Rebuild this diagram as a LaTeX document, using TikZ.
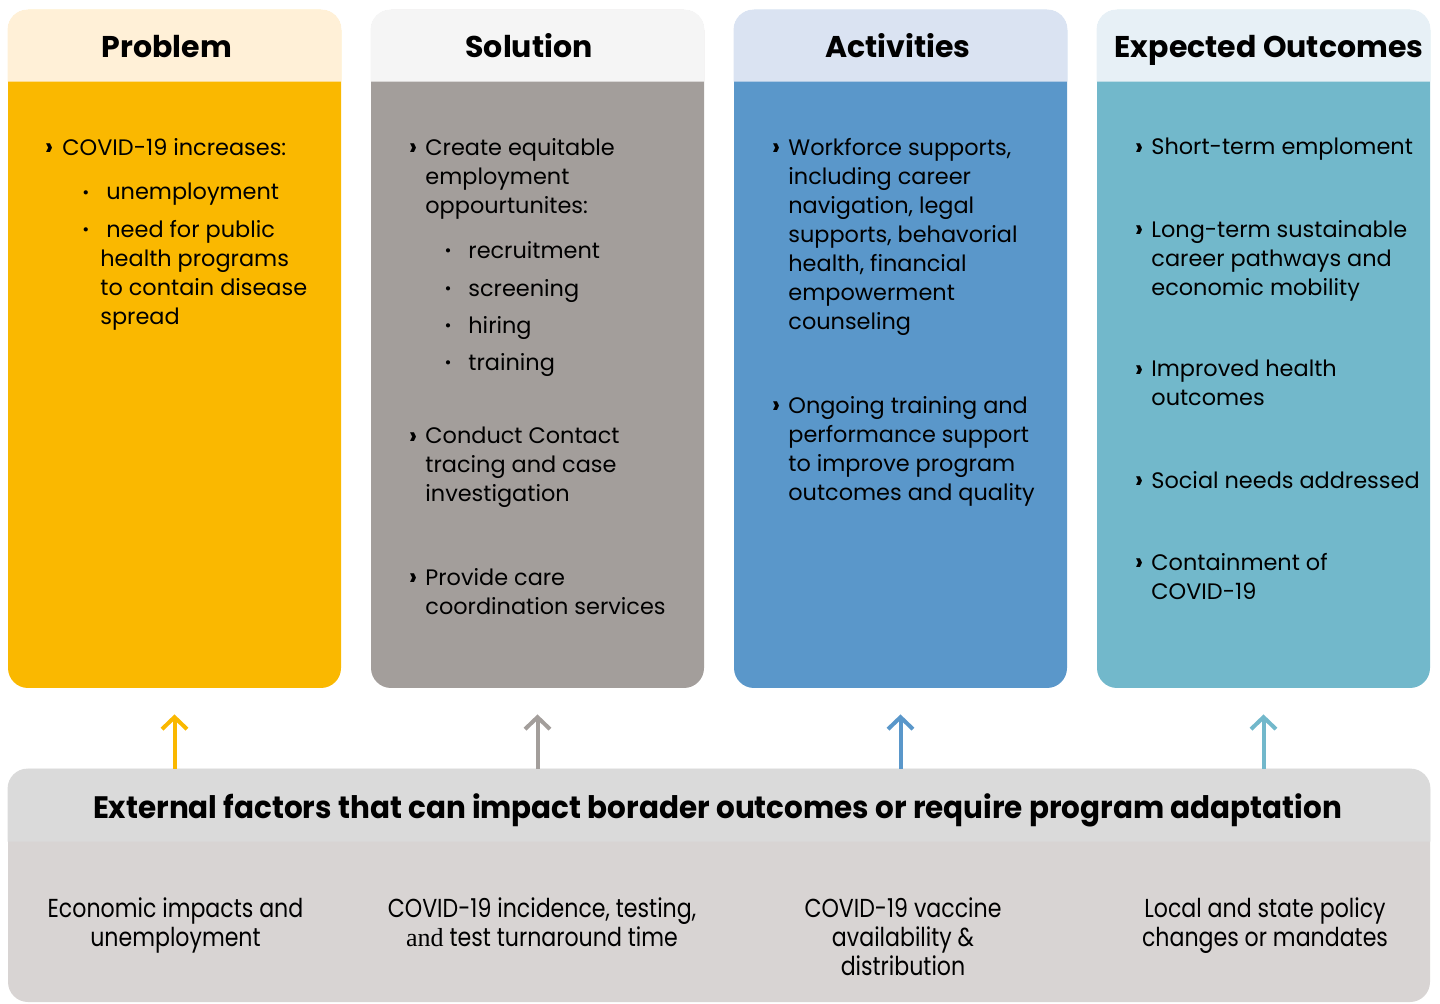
\documentclass[tikz,border=0pt]{standalone}
\usepackage{fontspec}
\setmainfont{Poppins}
\newfontfamily\narrowfont[FakeStretch=0.85]{Poppins}
\newfontfamily\titlefont[FakeStretch=0.95]{Poppins}
\newfontfamily\oddserif{Liberation Serif}
\usetikzlibrary{positioning, arrows.meta}

\definecolor{probhead}{HTML}{FFF0D7}
\definecolor{probbody}{HTML}{FAB800}
\definecolor{solhead}{HTML}{F5F5F5}
\definecolor{solbody}{HTML}{A39E9B}
\definecolor{acthead}{HTML}{DAE3F2}
\definecolor{actbody}{HTML}{5A97CA}
\definecolor{outhead}{HTML}{E7F0F6}
\definecolor{outbody}{HTML}{72B8CB}
\definecolor{exthead}{HTML}{DADADA}
\definecolor{extbody}{HTML}{D8D4D3}

\tikzset{
  colbox/.style={rounded corners=10pt, minimum width=166.5pt, minimum height=339pt, inner sep=0pt},
  headtext/.style={anchor=base, inner sep=0pt, font=\fontsize{15}{17}\selectfont\bfseries},
  item/.style={anchor=north west, inner sep=0pt, align=left, font=\fontsize{11.2}{14.5}\selectfont},
  chev/.style={anchor=base, inner sep=0pt, font=\fontsize{12.5}{14.5}\selectfont\bfseries},
  dotbul/.style={anchor=base, inner sep=0pt, font=\fontsize{8.5}{9}\selectfont},
  extnote/.style={anchor=north, inner sep=0pt, align=center, font=\narrowfont\fontsize{13}{14.5}\selectfont},
  uparr/.style={line width=2pt, -{Straight Barb[length=6pt, width=12.5pt]}}
}

\begin{document}
\begin{tikzpicture}[x=0.5pt, y=-0.5pt]
   \useasboundingbox (0,0) rectangle (1440,1004);

   % The four columns
   \node[colbox, fill=probbody] (prob) at (174.5,349) {};
   \node[colbox, fill=solbody] (sol) at (537.5,349) {};
   \node[colbox, fill=actbody] (act) at (900.5,349) {};
   \node[colbox, fill=outbody] (out) at (1263.5,349) {};

   % Header bands
   \fill[probhead] ([yshift=-36pt]prob.north west) [rounded corners=10pt] -- (prob.north west) -- (prob.north east) [sharp corners] -- ([yshift=-36pt]prob.north east) -- cycle;
   \fill[solhead] ([yshift=-36pt]sol.north west) [rounded corners=10pt] -- (sol.north west) -- (sol.north east) [sharp corners] -- ([yshift=-36pt]sol.north east) -- cycle;
   \fill[acthead] ([yshift=-36pt]act.north west) [rounded corners=10pt] -- (act.north west) -- (act.north east) [sharp corners] -- ([yshift=-36pt]act.north east) -- cycle;
   \fill[outhead] ([yshift=-36pt]out.north west) [rounded corners=10pt] -- (out.north west) -- (out.north east) [sharp corners] -- ([yshift=-36pt]out.north east) -- cycle;

   \node[headtext] (probtitle) at (167,58) {Problem};
   \node[headtext] (soltitle) at (529,58) {Solution};
   \node[headtext] (acttitle) at (898,58) {Activities};
   \node[headtext] (outtitle) at (1269,58) {Expected Outcomes};

   % Problem
   \node[chev] (pc1) at (49,156) {›};
   \node[item] (p1) at (62,138) {COVID-19 increases:};
   \node[dotbul] (pd1) at (86,199) {•};
   \node[item] (p1a) at (106,183) {unemployment};
   \node[dotbul] (pd2) at (86,236) {•};
   \node[item] (p1b) at (100,220) {\hspace{3pt}need for public\\health programs\\to contain disease\\spread};

   % Solution
   \node[chev] (sc1) at (413,156) {›};
   \node[item] (s1) at (425,138) {Create equitable\\employment\\oppourtunites:};
   \node[dotbul] (sd1) at (448,257) {•};
   \node[item] (s1a) at (468,241) {recruitment};
   \node[dotbul] (sd2) at (448,295) {•};
   \node[item] (s1b) at (468,279) {screening};
   \node[dotbul] (sd3) at (448,332) {•};
   \node[item] (s1c) at (468,316) {hiring};
   \node[dotbul] (sd4) at (448,369) {•};
   \node[item] (s1d) at (468,353) {training};
   \node[chev] (sc2) at (413,445) {›};
   \node[item] (s2) at (425,427) {Conduct Contact\\tracing and case\\investigation};
   \node[chev] (sc3) at (413,586) {›};
   \node[item] (s3) at (425,568) {Provide care\\coordination services};

   % Activities
   \node[chev] (ac1) at (776,156) {›};
   \node[item] (a1) at (788,138) {Workforce supports,\\including career\\navigation, legal\\supports, behavorial\\health, financial\\empowerment\\counseling};
   \node[chev] (ac2) at (776,414) {›};
   \node[item] (a2) at (788,396) {Ongoing training and\\performance support\\to improve program\\outcomes and quality};

   % Expected outcomes
   \node[chev] (oc1) at (1139,156) {›};
   \node[item] (o1) at (1151,138) {Short-term emploment};
   \node[chev] (oc2) at (1139,238) {›};
   \node[item] (o2) at (1151,220) {Long-term sustainable\\career pathways and\\economic mobility};
   \node[chev] (oc3) at (1139,378) {›};
   \node[item] (o3) at (1151,360) {Improved health\\outcomes};
   \node[chev] (oc4) at (1139,489) {›};
   \node[item] (o4) at (1151,471) {Social needs addressed};
   \node[chev] (oc5) at (1139,571) {›};
   \node[item] (o5) at (1151,553) {Containment of\\COVID-19};

   % External factors
   \node[colbox, fill=extbody, minimum width=711pt, minimum height=116.5pt] (ext) at (719,885.5) {};
   \fill[exthead] ([yshift=-36.5pt]ext.north west) [rounded corners=10pt] -- (ext.north west) -- (ext.north east) [sharp corners] -- ([yshift=-36.5pt]ext.north east) -- cycle;
   \node[anchor=base, inner sep=0pt, font=\titlefont\fontsize{15.5}{18}\selectfont\bfseries] (exttitle) at (717.5,818) {External factors that can impact borader outcomes or require program adaptation};

   \node[extnote] (e1) at (175.5,897) {Economic impacts and\\unemployment};
   \node[extnote] (e2) at (542,897) {COVID-19 incidence, testing,\\{\oddserif and} test turnaround time};
   \node[extnote] (e3) at (903,897) {COVID-19 vaccine\\availability \&\\distribution};
   \node[extnote] (e4) at (1265,897) {Local and state policy\\changes or mandates};

   % Arrows up to the columns
   \coordinate[below=13pt of prob.south] (probtip);
   \coordinate[below=13pt of sol.south] (soltip);
   \coordinate[below=13pt of act.south] (acttip);
   \coordinate[below=13pt of out.south] (outtip);
   \draw[uparr, probbody] (ext.north -| probtip) -- (probtip);
   \draw[uparr, solbody] (ext.north -| soltip) -- (soltip);
   \draw[uparr, actbody] (ext.north -| acttip) -- (acttip);
   \draw[uparr, outbody] (ext.north -| outtip) -- (outtip);
\end{tikzpicture}
\end{document}
